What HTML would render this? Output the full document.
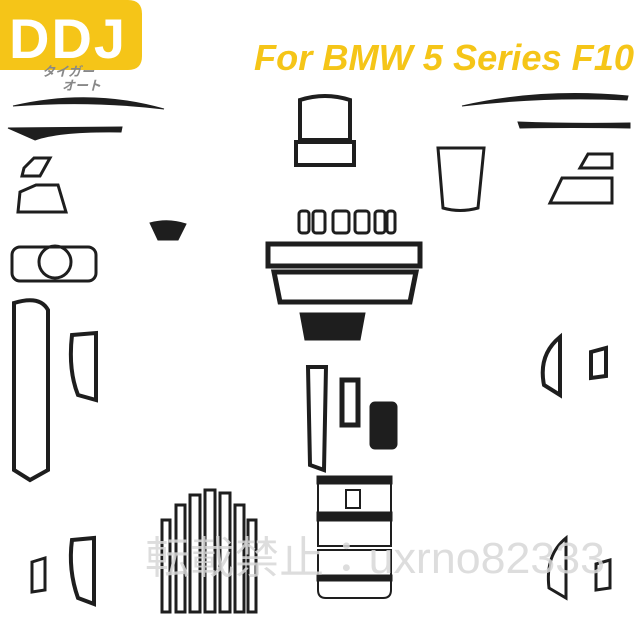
<!DOCTYPE html>
<html><head><meta charset="utf-8"><style>
html,body{margin:0;padding:0;background:#fff;width:640px;height:640px;overflow:hidden}
svg{display:block}
</style></head><body>
<svg width="640" height="640" viewBox="0 0 640 640" xmlns="http://www.w3.org/2000/svg">
<rect width="640" height="640" fill="#fff"/>
<path d="M0 0H128Q142 0 142 14V56Q142 70 128 70H0Z" fill="#f5c518"/>
<text x="9" y="58" font-family="Liberation Sans, sans-serif" font-weight="bold" font-size="56" fill="#fff" letter-spacing="2">DDJ</text>
<text x="42" y="76" font-family="Liberation Sans, 'Noto Sans CJK JP', sans-serif" font-style="italic" font-weight="bold" font-size="13" fill="#888">タイガー</text>
<text x="62" y="90" font-family="Liberation Sans, 'Noto Sans CJK JP', sans-serif" font-style="italic" font-weight="bold" font-size="13" fill="#888">オート</text>
<text x="254" y="70" font-family="Liberation Sans, sans-serif" font-weight="bold" font-style="italic" font-size="36" fill="#f5c518" textLength="380" lengthAdjust="spacingAndGlyphs">For BMW 5 Series F10</text>
<g fill="#1e1e1e" stroke="#1e1e1e">
<path d="M13 106Q90 88 164 109Q90 100 13 106Z"/>
<path d="M8 128L122 127L121 132Q60 131 35 140Z"/>
<path d="M462 106Q540 88 628 96L627 100Q545 96 462 106Z"/>
<path d="M518 122Q570 124 630 123L630 128Q570 127 520 128Z"/>
<path d="M300 313H365L360 340H305Z"/>
<path d="M150 223Q168 218 186 224L178 240H158Z"/>
</g>
<g fill="none" stroke="#1e1e1e" stroke-width="3">
<path d="M24 168L34 158H50L40 176H22Z"/>
<path d="M20 192L36 185H58L66 212H18Z"/>
<rect x="12" y="247" width="84" height="34" rx="8"/>
<circle cx="55" cy="262" r="16"/>
<path d="M14 303Q40 295 48 310V470L30 480L14 470Z" stroke-width="4"/>
<path d="M72 335L96 333V400L78 395Q68 370 72 335Z" stroke-width="4"/>
<path d="M300 100Q325 92 350 100V140H300Z M296 142H354V165H296Z" stroke-width="4"/>
<rect x="299" y="211" width="10" height="22" rx="3"/>
<rect x="313" y="211" width="12" height="22" rx="3"/>
<rect x="333" y="211" width="16" height="22" rx="3"/>
<rect x="355" y="211" width="14" height="22" rx="3"/>
<rect x="375" y="211" width="10" height="22" rx="3"/>
<rect x="387" y="211" width="8" height="22" rx="3"/>
<rect x="268" y="244" width="152" height="22" stroke-width="5"/>
<path d="M274 272H416L410 302H280Z" stroke-width="5"/>
<path d="M308 367H326L324 470L310 465Z" stroke-width="4"/>
<path d="M342 380H358V425H342Z" stroke-width="5"/>
<rect x="371" y="403" width="25" height="45" rx="4" fill="#1e1e1e"/>
<path d="M318 477H391V546H318Z M318 550H391V590Q391 598 383 598H326Q318 598 318 590Z" stroke-width="2"/>
<rect x="318" y="477" width="73" height="6" fill="#1e1e1e"/>
<rect x="318" y="513" width="73" height="7" fill="#1e1e1e"/>
<rect x="318" y="576" width="73" height="4" fill="#1e1e1e"/>
<rect x="346" y="490" width="14" height="18" stroke-width="2"/>
<path d="M438 148H484L478 208Q460 213 443 208Z"/>
<path d="M588 154H612V168H580Z"/>
<path d="M562 178H612V203H550Z"/>
<path d="M560 337V395L544 385Q538 355 560 337Z" stroke-width="4"/>
<path d="M591 352L606 348V376L591 378Z" stroke-width="4"/>
<path d="M566 538V598L549 588Q545 555 566 538Z" stroke-width="3"/>
<path d="M596 564L610 560V588L596 590Z" stroke-width="3"/>
<path d="M72 540L94 538V604L78 598Q68 570 72 540Z" stroke-width="4"/>
<path d="M32 562L45 558V590L32 592Z" stroke-width="3"/>
</g>
<g fill="none" stroke="#1e1e1e" stroke-width="3">
<path d="M190 495H200V612H190Z"/><path d="M205 490H215V612H205Z"/><path d="M220 493H230V612H220Z"/>
<path d="M176 505H185V612H176Z"/><path d="M235 505H244V612H235Z"/><path d="M162 520H170V612H162Z"/><path d="M248 520H256V612H248Z"/>
</g>
<text x="145" y="573" font-family="Liberation Sans, 'Noto Sans CJK JP', sans-serif" font-size="44" fill="#d8d8d8" opacity="0.85" textLength="460" lengthAdjust="spacingAndGlyphs">転載禁止：uxrno82333</text>
</svg>
</body></html>
